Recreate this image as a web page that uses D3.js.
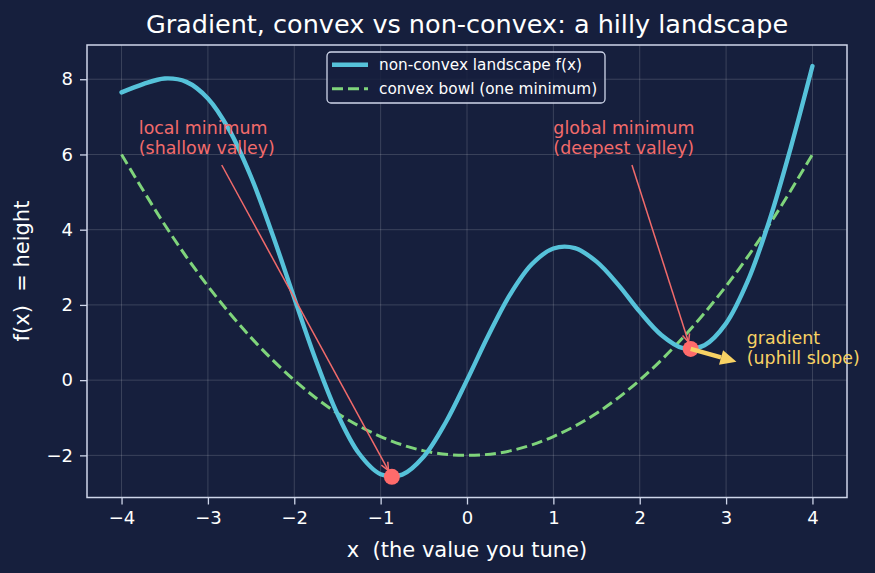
<!DOCTYPE html>
<html>
<head>
<meta charset="utf-8">
<script src="https://cdn.jsdelivr.net/npm/d3@7"></script>
<style>
  html, body { margin: 0; padding: 0; background: #161f3d; }
  svg { display: block; font-family: "DejaVu Sans", sans-serif; }
</style>
</head>
<body>
<div id="chart"></div>
<script>
// landscape samples
const xs = [-4, -3.75, -3.5, -3.25, -3, -2.75, -2.5, -2.25, -2, -1.75, -1.5, -1.25, -1, -0.75, -0.5, -0.25,
            0, 0.25, 0.5, 0.75, 1, 1.25, 1.5, 1.75, 2, 2.25, 2.5, 2.75, 3, 3.25, 3.5, 3.75, 4];
const nonConvex = [7.65, 7.87, 8.02, 7.93, 7.49, 6.64, 5.40, 3.86, 2.18, 0.53, -0.90, -1.95, -2.50, -2.51, -2.03, -1.14,
                   0.00, 1.20, 2.28, 3.08, 3.50, 3.51, 3.15, 2.54, 1.82, 1.20, 0.85, 0.93, 1.51, 2.63, 4.23, 6.19, 8.35];

const bowlX = [-4, -3.5, -3, -2.5, -2, -1.5, -1, -0.5, 0, 0.5, 1, 1.5, 2, 2.5, 3, 3.5, 4];
const bowl  = [6, 4.13, 2.5, 1.13, 0, -0.88, -1.5, -1.88, -2, -1.88, -1.5, -0.88, 0, 1.13, 2.5, 4.13, 6];

const xTicks = [-4, -3, -2, -1, 0, 1, 2, 3, 4];
const yTicks = [-2, 0, 2, 4, 6, 8];

// minima markers
const minX = [-0.87, 2.59];
const minY = [-2.57, 0.83];
const annLines = [["local minimum", "(shallow valley)"], ["global minimum", "(deepest valley)"]];
const annTextX = [-3.8, 1.0];
const annTextY = [6.0, 6.0];
const annFromX = [-2.84, 1.91];
const annFromY = [5.72, 5.72];

// gradient arrow
const gradFrom = [2.59, 0.83];
const gradTo = [3.12, 0.49];
const gradLines = ["gradient", "(uphill slope)"];
const gradTextX = 3.24;
const gradTextY = 0.45;

const W = 875, H = 573;
const C = {
  bg: "#161f3d", frame: "#cfd6ea", text: "#ffffff", grid: "rgba(255,255,255,0.16)",
  blue: "#56c2da", green: "#7fd47b", coral: "#f26b6b", marker: "#ff6b6b", yellow: "#f8d264"
};

const svg = d3.select("#chart").append("svg").attr("width", W).attr("height", H);
svg.append("rect").attr("width", W).attr("height", H).attr("fill", C.bg);

const x = d3.scaleLinear().domain([-4.4, 4.4]).range([87, 847]);
const y = d3.scaleLinear().domain([-3.12, 8.91]).range([497.5, 45]);

const defs = svg.append("defs");
defs.append("clipPath").attr("id", "plot").append("rect")
  .attr("x", 87).attr("y", 45).attr("width", 760).attr("height", 452.5);

// grid
const grid = svg.append("g");
grid.selectAll(".gx").data(xTicks).enter().append("line")
  .attr("x1", d => x(d)).attr("x2", d => x(d)).attr("y1", 45).attr("y2", 497.5)
  .attr("stroke", C.grid).attr("stroke-width", 1);
grid.selectAll(".gy").data(yTicks).enter().append("line")
  .attr("y1", d => y(d)).attr("y2", d => y(d)).attr("x1", 87).attr("x2", 847)
  .attr("stroke", C.grid).attr("stroke-width", 1);

// axes
const xAxis = svg.append("g").attr("transform", "translate(0,497.5)")
  .call(d3.axisBottom(x).tickValues(xTicks).tickSize(7).tickPadding(7).tickFormat(d3.format("")));
const yAxis = svg.append("g").attr("transform", "translate(87,0)")
  .call(d3.axisLeft(y).tickValues(yTicks).tickSize(7).tickPadding(7).tickFormat(d3.format("")));
[xAxis, yAxis].forEach(a => {
  a.select(".domain").remove();
  a.selectAll(".tick line").attr("stroke", C.frame).attr("stroke-width", 1.3);
  a.selectAll(".tick text").attr("fill", C.text).style("font-size", "18px")
    .style("font-family", "DejaVu Sans");
});

// frame
svg.append("rect").attr("x", 87).attr("y", 45).attr("width", 760).attr("height", 452.5)
  .attr("fill", "none").attr("stroke", C.frame).attr("stroke-width", 1.5);

const plot = svg.append("g").attr("clip-path", "url(#plot)");

// convex bowl
plot.append("path")
  .datum(bowlX.map((v, i) => [v, bowl[i]]))
  .attr("d", d3.line().x(d => x(d[0])).y(d => y(d[1])).curve(d3.curveNatural))
  .attr("fill", "none").attr("stroke", C.green).attr("stroke-width", 3)
  .attr("stroke-dasharray", "11,5");

// non-convex landscape
plot.append("path")
  .datum(xs.map((v, i) => [v, nonConvex[i]]))
  .attr("d", d3.line().x(d => x(d[0])).y(d => y(d[1])).curve(d3.curveCatmullRom.alpha(0.5)))
  .attr("fill", "none").attr("stroke", C.blue).attr("stroke-width", 4.4)
  .attr("stroke-linecap", "round");

// annotation arrows (open "->" heads)
function openArrow(g, x1, y1, x2, y2, shrink, color) {
  const a = Math.atan2(y2 - y1, x2 - x1);
  const ex = x2 - shrink * Math.cos(a), ey = y2 - shrink * Math.sin(a);
  g.append("line").attr("x1", x1).attr("y1", y1).attr("x2", ex).attr("y2", ey)
    .attr("stroke", color).attr("stroke-width", 1.5);
  const hl = 9, hw = 0.42;
  const pts = [[ex - hl * Math.cos(a - hw), ey - hl * Math.sin(a - hw)], [ex, ey],
               [ex - hl * Math.cos(a + hw), ey - hl * Math.sin(a + hw)]];
  g.append("path").attr("d", d3.line()(pts)).attr("fill", "none")
    .attr("stroke", color).attr("stroke-width", 1.5);
}
const ann = svg.append("g");
minX.forEach((mx, i) => {
  openArrow(ann, x(annFromX[i]), y(annFromY[i]), x(mx), y(minY[i]), 7, C.coral);
});

// markers
svg.append("g").selectAll("circle").data(minX).enter().append("circle")
  .attr("cx", d => x(d)).attr("cy", (d, i) => y(minY[i])).attr("r", 8)
  .attr("fill", C.marker);

// annotation texts
annLines.forEach((lines, i) => {
  const t = ann.append("text").attr("x", x(annTextX[i])).attr("y", y(annTextY[i]) - 20)
    .attr("fill", C.coral).style("font-size", "17.4px");
  lines.forEach((l, j) => t.append("tspan").attr("x", x(annTextX[i])).attr("dy", j ? 20 : 0).text(l));
});

// gradient arrow (filled head)
{
  const x1 = x(gradFrom[0]), y1 = y(gradFrom[1]), x2 = x(gradTo[0]), y2 = y(gradTo[1]);
  const a = Math.atan2(y2 - y1, x2 - x1);
  const hl = 16, hw = 7.5;
  const bx = x2 - hl * Math.cos(a), by = y2 - hl * Math.sin(a);
  svg.append("line").attr("x1", x1).attr("y1", y1).attr("x2", bx).attr("y2", by)
    .attr("stroke", C.yellow).attr("stroke-width", 4.4);
  svg.append("path").attr("d", d3.line()([[x2, y2],
      [bx + hw * Math.sin(a), by - hw * Math.cos(a)],
      [bx - hw * Math.sin(a), by + hw * Math.cos(a)]]) + "Z")
    .attr("fill", C.yellow);
  const t = svg.append("text").attr("x", x(gradTextX)).attr("y", y(gradTextY) - 19)
    .attr("fill", C.yellow).style("font-size", "17.4px");
  gradLines.forEach((l, j) => t.append("tspan").attr("x", x(gradTextX)).attr("dy", j ? 19.5 : 0).text(l));
}

// legend
const lg = svg.append("g").attr("transform", "translate(327,52)");
lg.append("rect").attr("width", 278).attr("height", 51).attr("rx", 4)
  .attr("fill", C.bg).attr("fill-opacity", 0.85)
  .attr("stroke", C.frame).attr("stroke-width", 1.3);
const legItems = [
  { label: "non-convex landscape f(x)", color: C.blue, width: 4.4, dash: null },
  { label: "convex bowl (one minimum)", color: C.green, width: 3, dash: "11,5" }
];
legItems.forEach((it, i) => {
  const yy = 12.7 + i * 24;
  lg.append("line").attr("x1", 5).attr("x2", 41).attr("y1", yy).attr("y2", yy)
    .attr("stroke", it.color).attr("stroke-width", it.width)
    .attr("stroke-dasharray", it.dash);
  lg.append("text").attr("x", 52).attr("y", yy + 5.5).attr("fill", C.text)
    .style("font-size", "15.3px").text(it.label);
});

// title and axis labels
svg.append("text").attr("x", 467).attr("y", 33).attr("text-anchor", "middle")
  .attr("fill", C.text).style("font-size", "25.5px")
  .text("Gradient, convex vs non-convex: a hilly landscape");
svg.append("text").attr("x", 467).attr("y", 557).attr("text-anchor", "middle")
  .attr("fill", C.text).style("font-size", "21px").style("white-space", "pre")
  .text("x  (the value you tune)");
svg.append("text").attr("transform", "translate(29,271) rotate(-90)").attr("text-anchor", "middle")
  .attr("fill", C.text).style("font-size", "21px").style("white-space", "pre")
  .text("f(x)  = height");
</script>
</body>
</html>
